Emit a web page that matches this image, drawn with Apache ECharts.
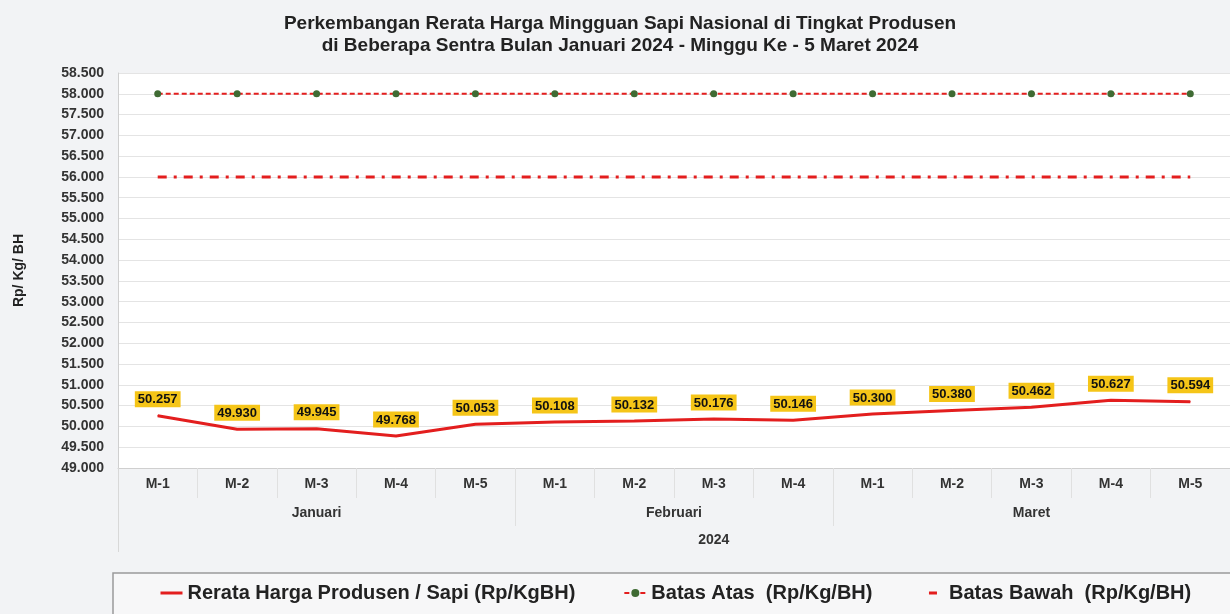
<!DOCTYPE html>
<html>
<head>
<meta charset="utf-8">
<script src="https://cdn.jsdelivr.net/npm/echarts@6/dist/echarts.min.js"></script>
<style>html,body{margin:0;padding:0;background:#f2f3f5;}#c{width:1230px;height:614px;}</style>
</head>
<body>
<div id="c"></div>
<script>
const weeks = ['M-1','M-2','M-3','M-4','M-5','M-1','M-2','M-3','M-4','M-1','M-2','M-3','M-4','M-5'];
const months = ['Januari','Februari','Maret'];
const monthCenters = [2.5, 7, 11.5];
const monthBounds = [0, 5, 9, 14];
const yearLabel = '2024';
const rerata = [50257, 49930, 49945, 49768, 50053, 50108, 50132, 50176, 50146, 50300, 50380, 50462, 50627, 50594];
const batasAtas = [58000, 58000, 58000, 58000, 58000, 58000, 58000, 58000, 58000, 58000, 58000, 58000, 58000, 58000];
const batasBawah = [56000, 56000, 56000, 56000, 56000, 56000, 56000, 56000, 56000, 56000, 56000, 56000, 56000, 56000];

const fmt = v => String(v).replace(/\B(?=(\d{3})+(?!\d))/g, '.');
const FONT = '"Liberation Sans", Arial, sans-serif';

const chart = echarts.init(document.getElementById('c'));
chart.setOption({
  backgroundColor: '#f2f3f5',
  animation: false,
  title: {
    text: 'Perkembangan Rerata Harga Mingguan Sapi Nasional di Tingkat Produsen\ndi Beberapa Sentra Bulan Januari 2024 - Minggu Ke - 5 Maret 2024',
    left: 615, textAlign: 'center', top: 8,
    textStyle: { fontFamily: FONT, fontWeight: 'bold', fontSize: 19, color: '#222', lineHeight: 22, align: 'center' }
  },
  legend: {
    left: 113, top: 573, width: 1160,
    padding: [10, 40, 14, 46],
    itemGap: 48,
    itemWidth: 22, itemHeight: 10,
    borderColor: '#9a9a9a', borderWidth: 1.5,
    backgroundColor: '#f7f7f8',
    textStyle: { fontFamily: FONT, fontWeight: 'bold', fontSize: 20, color: '#222' },
    data: [
      { name: 'Rerata Harga Produsen / Sapi (Rp/KgBH)', itemStyle: { opacity: 0 }, lineStyle: { width: 3 } },
      { name: 'Batas Atas  (Rp/Kg/BH)' },
      { name: 'Batas Bawah  (Rp/Kg/BH)', itemStyle: { opacity: 0 }, lineStyle: { width: 3, type: [0, 7, 8, 30] } }
    ]
  },
  grid: { left: 118, right: 0, top: 73, bottom: 146, show: true, backgroundColor: '#ffffff', borderWidth: 0 },
  xAxis: [
    {
      type: 'category', data: weeks, boundaryGap: true, position: 'bottom',
      axisLine: { lineStyle: { color: '#cfcfcf' } },
      axisTick: { show: true, length: 30, lineStyle: { color: '#e0e0e0' } },
      axisLabel: { fontFamily: FONT, fontWeight: 'bold', fontSize: 14, color: '#333', margin: 9, interval: 0 }
    },
    {
      type: 'value', min: 0, max: 14, position: 'bottom',
      axisLine: { show: false }, splitLine: { show: false },
      axisTick: { show: true, length: 58, customValues: monthBounds, lineStyle: { color: '#e0e0e0' } },
      axisLabel: {
        customValues: monthCenters, margin: 38,
        fontFamily: FONT, fontWeight: 'bold', fontSize: 14, color: '#333',
        formatter: v => months[monthCenters.indexOf(v)] || ''
      }
    },
    {
      type: 'value', min: 0, max: 14, position: 'bottom',
      axisLine: { show: false }, splitLine: { show: false },
      axisTick: { show: true, length: 84, customValues: [0], lineStyle: { color: '#d8d8d8' } },
      axisLabel: {
        customValues: [7.5], margin: 65,
        fontFamily: FONT, fontWeight: 'bold', fontSize: 14, color: '#333',
        formatter: () => yearLabel
      }
    }
  ],
  yAxis: {
    type: 'value', min: 49000, max: 58500, interval: 500,
    name: 'Rp/ Kg/ BH', nameLocation: 'middle', nameGap: 92, nameRotate: 90,
    nameTextStyle: { fontFamily: FONT, fontWeight: 'bold', fontSize: 14, color: '#222' },
    axisLine: { show: true, lineStyle: { color: '#cfcfcf' } },
    axisTick: { show: false },
    splitLine: { lineStyle: { color: '#e4e4e4' } },
    axisLabel: { fontFamily: FONT, fontWeight: 'bold', fontSize: 14, color: '#333', margin: 14, formatter: fmt }
  },
  series: [
    {
      name: 'Rerata Harga Produsen / Sapi (Rp/KgBH)', type: 'line', data: rerata,
      symbol: 'circle', symbolSize: 1, showAllSymbol: true, color: '#e31e1e',
      itemStyle: { color: '#e31e1e' },
      lineStyle: { width: 3, color: '#e31e1e' },
      label: {
        show: true, position: 'top', distance: 8,
        formatter: p => fmt(p.value),
        backgroundColor: '#f5c518', padding: [2, 3, 1, 3],
        fontFamily: FONT, fontWeight: 'bold', fontSize: 13, color: '#111'
      },
      labelLayout: { hideOverlap: false }
    },
    {
      name: 'Batas Atas  (Rp/Kg/BH)', type: 'line', data: batasAtas,
      symbol: 'circle', symbolSize: 7, showAllSymbol: true,
      itemStyle: { color: '#3f6b33' },
      lineStyle: { width: 2, color: '#e31e1e', type: [5, 3] }
    },
    {
      name: 'Batas Bawah  (Rp/Kg/BH)', type: 'line', data: batasBawah,
      symbol: 'none', color: '#e31e1e',
      itemStyle: { color: '#e31e1e' },
      lineStyle: { width: 3, color: '#e31e1e', type: [9, 7, 3, 7] }
    }
  ]
});
</script>
</body>
</html>
